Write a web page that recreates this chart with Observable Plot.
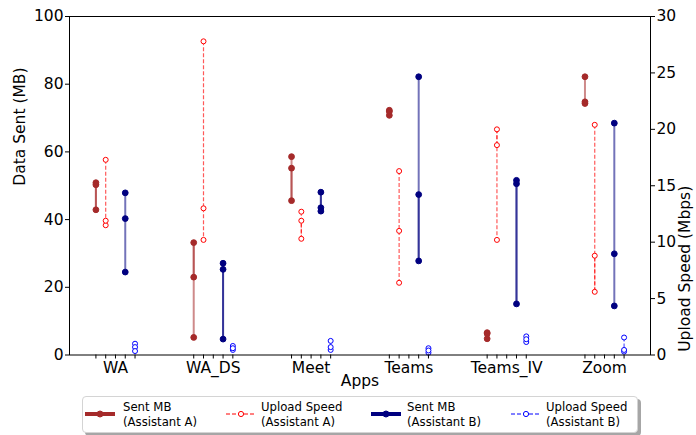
<!DOCTYPE html>
<html><head><meta charset="utf-8">
<script src="https://cdn.jsdelivr.net/npm/d3@7"></script>
<script src="https://cdn.jsdelivr.net/npm/@observablehq/plot@0.6"></script>
<style>
body{margin:0;background:white;font-family:"DejaVu Sans",sans-serif;}
#wrap{position:relative;width:696px;height:435px;background:white;}
#legend{position:absolute;left:82px;top:396px;width:554px;height:35px;border:1px solid #d4d4d4;border-radius:4px;box-shadow:3px 3px 0 rgba(0,0,0,0.35);background:white;font-size:11.7px;color:#000;}
.item{position:absolute;top:0;height:35px;}
.item svg{position:absolute;top:12px;}
.item .txt{position:absolute;top:3px;line-height:14.8px;white-space:nowrap;}
</style></head><body>
<div id="wrap"><div id="chart"></div><div id="legend"></div></div>
<script>
// ---- data ----
const apps = ["WA", "WA_DS", "Meet", "Teams", "Teams_IV", "Zoom"];
// Data sent (MB), three runs per app, Assistant A
const sentA = [[50.9, 42.9, 50.3], [23.0, 33.2, 5.2], [58.6, 45.6, 55.2], [72.3, 70.8, 71.9], [6.6, 4.8, 6.3], [82.2, 74.8, 74.3]];
// Upload speed (Mbps), Assistant A
const uploadA = [[17.3, 11.5, 11.9], [27.8, 13.0, 10.2], [12.7, 10.3, 11.9], [16.3, 11.0, 6.4], [18.6, 20.0, 10.2], [20.4, 5.6, 8.8]];
// Data sent (MB), Assistant B
const sentB = [[47.9, 40.3, 24.5], [25.3, 4.7, 27.1], [43.5, 48.1, 42.5], [82.2, 27.8, 47.4], [51.6, 15.1, 50.6], [68.5, 29.9, 14.5]];
// Upload speed (Mbps), Assistant B
const uploadB = [[1.0, 0.7, 0.35], [0.8, 0.45, 0.6], [1.25, 0.45, 0.7], [0.6, 0.2, 0.4], [1.65, 1.15, 1.4], [1.55, 0.3, 0.45]];
const mbTicks = [0, 20, 40, 60, 80, 100];
const mbpsTicks = [0, 5, 10, 15, 20, 25, 30];
const mbMax = 100, mbpsMax = 30;

const series = [
  {key: "sentA", label: ["Sent MB", "(Assistant A)"], values: sentA, offset: -0.2, color: "#a52a2a", kind: "sent"},
  {key: "sentB", label: ["Sent MB", "(Assistant B)"], values: sentB, offset: 0.1, color: "#000080", kind: "sent"},
  {key: "uploadA", label: ["Upload Speed", "(Assistant A)"], values: uploadA, offset: -0.1, color: "#ff0000", kind: "upload"},
  {key: "uploadB", label: ["Upload Speed", "(Assistant B)"], values: uploadB, offset: 0.2, color: "#0000ff", kind: "upload"}
];
const toY = (s, v) => s.kind === "upload" ? v * mbMax / mbpsMax : v;

const marks = [];
for (const s of series) {
  const pts = [], segs = [];
  apps.forEach((app, i) => {
    const vals = s.values[i];
    vals.forEach((v, j) => {
      pts.push({x: i + s.offset, y: toY(s, v)});
      if (j > 0) segs.push({x: i + s.offset, y1: toY(s, vals[j - 1]), y2: toY(s, v)});
    });
  });
  const sent = s.kind === "sent";
  marks.push(Plot.link(segs, {x1: "x", x2: "x", y1: "y1", y2: "y2", stroke: s.color,
    strokeWidth: sent ? 2 : 1.2, strokeOpacity: sent ? 0.55 : 0.65, strokeDasharray: sent ? null : "4,2"}));
  marks.push(Plot.dot(pts, {x: "x", y: "y", r: sent ? 2.9 : 2.5, fill: sent ? s.color : "white",
    stroke: s.color, strokeWidth: 1}));
}

const offsets = [-0.2, -0.1, 0, 0.1, 0.2];
const xTicks = apps.flatMap((a, i) => offsets.map(o => i + o));
const fs = 15.5;

const chart = Plot.plot({
  width: 696, height: 393,
  marginLeft: 69, marginRight: 46, marginTop: 16, marginBottom: 38.5,
  style: {fontFamily: "DejaVu Sans", fontSize: fs + "px", background: "white", color: "black", overflow: "visible"},
  x: {type: "linear", domain: [-0.47, 5.47]},
  y: {domain: [0, mbMax]},
  marks: [
    ...marks,
    Plot.frame({stroke: "black", strokeWidth: 1}),
    Plot.axisX({ticks: xTicks, tickSize: 4, tickPadding: 3, fontSize: fs, label: null,
      tickFormat: d => { const i = Math.round(d); return Math.abs(d - i) < 1e-9 ? apps[i] : ""; }}),
    Plot.axisY({anchor: "left", ticks: mbTicks, tickSize: 4, tickPadding: 2, fontSize: fs, label: null}),
    Plot.axisY({anchor: "right", ticks: mbpsTicks.map(v => v * mbMax / mbpsMax), tickSize: 4, tickPadding: 2, fontSize: fs, label: null,
      tickFormat: d => String(Math.round(d * mbpsMax / mbMax))}),
    Plot.text(["Data Sent (MB)"], {frameAnchor: "left", dx: -49, rotate: -90, text: d => d, fontSize: fs}),
    Plot.text(["Upload Speed (Mbps)"], {frameAnchor: "right", dx: 35, rotate: -90, text: d => d, fontSize: fs}),
    Plot.text(["Apps"], {frameAnchor: "bottom", dy: 31, text: d => d, fontSize: fs})
  ]
});
document.getElementById("chart").appendChild(chart);

// ---- legend (HTML, below the svg) ----
const legendOrder = ["sentA", "uploadA", "sentB", "uploadB"];
const samplePos = [2, 143, 288, 428];
const textPos = [40, 178, 324, 463];
const leg = document.getElementById("legend");
legendOrder.forEach((k, idx) => {
  const s = series.find(d => d.key === k);
  const sent = s.kind === "sent";
  const item = document.createElement("div");
  item.className = "item";
  item.style.left = "0px";
  const w = 30;
  item.innerHTML =
    `<svg width="${w}" height="10" style="left:${samplePos[idx]}px">` +
    `<line x1="0" x2="${w}" y1="5" y2="5" stroke="${s.color}" stroke-width="${sent ? 4 : 1}" ${sent ? "" : 'stroke-dasharray="4,2"'}/>` +
    `<circle cx="${w / 2}" cy="5" r="${sent ? 3 : 2.6}" fill="${sent ? s.color : "white"}" stroke="${s.color}" stroke-width="1"/></svg>` +
    `<div class="txt" style="left:${textPos[idx]}px">${s.label[0]}<br>${s.label[1]}</div>`;
  leg.appendChild(item);
});
</script>
</body></html>
